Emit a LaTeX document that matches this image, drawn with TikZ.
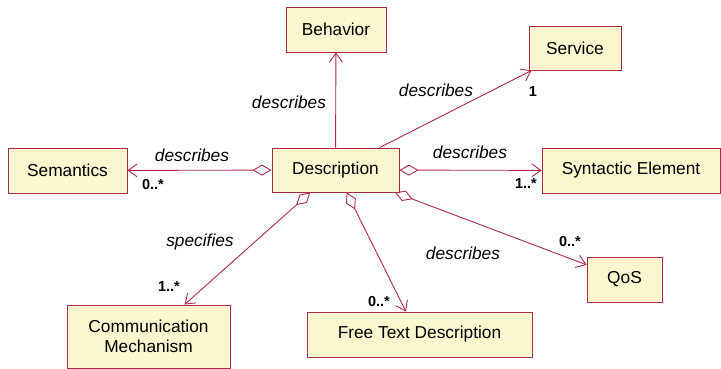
\documentclass[tikz,border=0pt]{standalone}
\usepackage{fontspec}
\setmainfont{Liberation Sans}
\usepackage{tikz}
\usetikzlibrary{positioning}
\usetikzlibrary{arrows.meta}
\usetikzlibrary{calc}

\definecolor{roseline}{RGB}{176,40,72}
\definecolor{rosefill}{RGB}{251,247,206}

\begin{document}
\begin{tikzpicture}[x=1pt, y=-1pt,
  cls/.style = {draw=roseline, fill=rosefill, line width=0.9pt, inner sep=0pt,
    font=\fontsize{17.3}{20}\selectfont},
  nav/.style = {draw=roseline, line width=0.9pt,
    arrows={-Straight Barb[length=9pt,width=13pt]}},
  assoc/.style = {nav,
    arrows={Diamond[open,length=19pt,width=11pt]-Straight Barb[length=9pt,width=13pt]}},
  role/.style = {font=\fontsize{17.3}{20}\selectfont\itshape},
  mult/.style = {font=\fontsize{14.5}{16}\selectfont\bfseries}]
\useasboundingbox (0,0) rectangle (721,368);

\node[cls, minimum width=127pt, minimum height=44pt] (desc) at (335.5,170) {Description};
\node[cls, minimum width=119pt, minimum height=45pt] (sem) at (67.5,170.5) {Semantics};
\node[cls, minimum width=100pt, minimum height=45pt] (beh) at (336,29.5) {Behavior};
\node[cls, minimum width=92pt, minimum height=44pt] (serv) at (575,48) {Service};
\node[cls, minimum width=178pt, minimum height=45pt] (syn) at (631,170.5) {Syntactic Element};
\node[cls, minimum width=163pt, minimum height=63pt, align=center] (comm) at (148.5,336.5) {Communication\\Mechanism};
\node[cls, minimum width=225pt, minimum height=45pt] (free) at (419.5,334.5) {Free Text Description};
\node[cls, minimum width=75pt, minimum height=45pt] (qos) at (624.5,279.5) {QoS};

\coordinate (servin) at ($(serv.south west)+(3,0)$);
\coordinate (commin) at ($(comm.north west)!0.72!(comm.north east)$);
\coordinate (freein) at ($(free.north west)!0.44!(free.north east)$);
\coordinate (qosin) at ($(qos.north west)!0.18!(qos.south west)$);

\draw[nav] (desc) -- (beh);
\draw[nav] (desc) -- (servin);
\draw[assoc] (desc) -- (sem);
\draw[assoc] (desc) -- (syn);
\draw[assoc] (desc) -- (commin);
\draw[assoc] (desc) -- (freein);
\draw[assoc] (desc) -- (qosin);

\node[role] (rbeh) at (289,102) {describes};
\node[role] (rserv) at (436,90) {describes};
\node[role] (rsem) at (192,155) {describes};
\node[role] (rsyn) at (470,152) {describes};
\node[role] (rcomm) at (200,242) {specifies};
\node[role] (rfree) at (463,253) {describes};

\node[mult] (mserv) at (533,92) {1};
\node[mult] (msem) at (153,185) {0..*};
\node[mult] (msyn) at (526,184) {1..*};
\node[mult] (mcomm) at (169,287) {1..*};
\node[mult] (mfree) at (379,302) {0..*};
\node[mult] (mqos) at (570,242) {0..*};
\end{tikzpicture}
\end{document}
